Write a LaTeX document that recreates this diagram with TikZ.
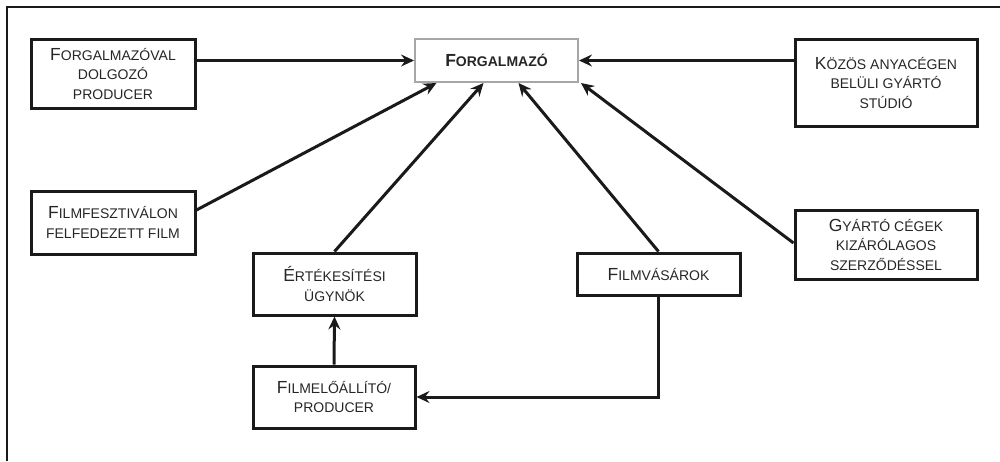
\documentclass[tikz,border=0pt]{standalone}
\usepackage{fontspec}
\setmainfont{Liberation Sans}
\usetikzlibrary{arrows.meta}
\definecolor{szoveg}{HTML}{262626}
\definecolor{vonal}{HTML}{1A1A1A}
\newcommand\kezd[1]{{\fontsize{17.5}{19.5}\selectfont #1}}

\begin{document}
\begin{tikzpicture}[x=1pt, y=-1pt,
	doboz/.style={draw=vonal, line width=3pt, text=szoveg, align=center, inner sep=0pt,
		font=\fontsize{14}{19.5}\selectfont},
	nyil/.style={line width=3pt, draw=vonal, -{Stealth[length=13pt, width=12pt, inset=4.5pt]}}]
	\useasboundingbox (0,0) rectangle (1000,461);
	\draw[line width=1.4pt, vonal] (7,461) -- (7,7) -- (1000,7);

	% dobozok
	\node[doboz, draw=gray!70, line width=2pt, minimum width=163, minimum height=43, font=\bfseries\fontsize{14}{19.5}\selectfont] (forgalmazo) at (496.5,60.5) {\kezd{F}ORGALMAZÓ};
	\node[doboz, minimum width=164, minimum height=69] (producer) at (113,73.5) {\kezd{F}ORGALMAZÓVAL\\DOLGOZÓ\\PRODUCER};
	\node[doboz, minimum width=182, minimum height=87] (kozos) at (886,82.5) {\kezd{K}ÖZÖS ANYACÉGEN\\BELÜLI GYÁRTÓ\\STÚDIÓ};
	\node[doboz, minimum width=164, minimum height=63] (fesztival) at (113,222.5) {\kezd{F}ILMFESZTIVÁLON\\FELFEDEZETT FILM};
	\node[doboz, minimum width=182, minimum height=69] (gyarto) at (886,244.5) {\kezd{G}YÁRTÓ CÉGEK\\KIZÁRÓLAGOS\\SZERZŐDÉSSEL};
	\node[doboz, minimum width=163, minimum height=62] (ugynok) at (334.5,284) {\kezd{É}RTÉKESÍTÉSI\\ÜGYNÖK};
	\node[doboz, minimum width=163, minimum height=42] (vasarok) at (658.5,274) {\kezd{F}ILMVÁSÁROK};
	\node[doboz, minimum width=162, minimum height=62] (eloallito) at (334,397) {\kezd{F}ILMELŐÁLLÍTÓ/\\PRODUCER};

	% nyilak
	\draw[nyil] (producer.east |- forgalmazo.west) -- (forgalmazo.west);
	\draw[nyil] (kozos.west |- forgalmazo.east) -- (forgalmazo.east);
	\draw[nyil] ([yshift=12.5pt]fesztival.east) -- ([xshift=-60pt]forgalmazo.south);
	\draw[nyil] (ugynok.north) -- ([xshift=-13pt]forgalmazo.south);
	\draw[nyil] (vasarok.north) -- ([xshift=22pt]forgalmazo.south);
	\draw[nyil] ([yshift=1.5pt]gyarto.west) -- ([xshift=2pt]forgalmazo.south east);
	\draw[nyil] (eloallito.north) -- (ugynok.south);
	\draw[nyil] (vasarok.south) |- (eloallito.east);
\end{tikzpicture}
\end{document}
